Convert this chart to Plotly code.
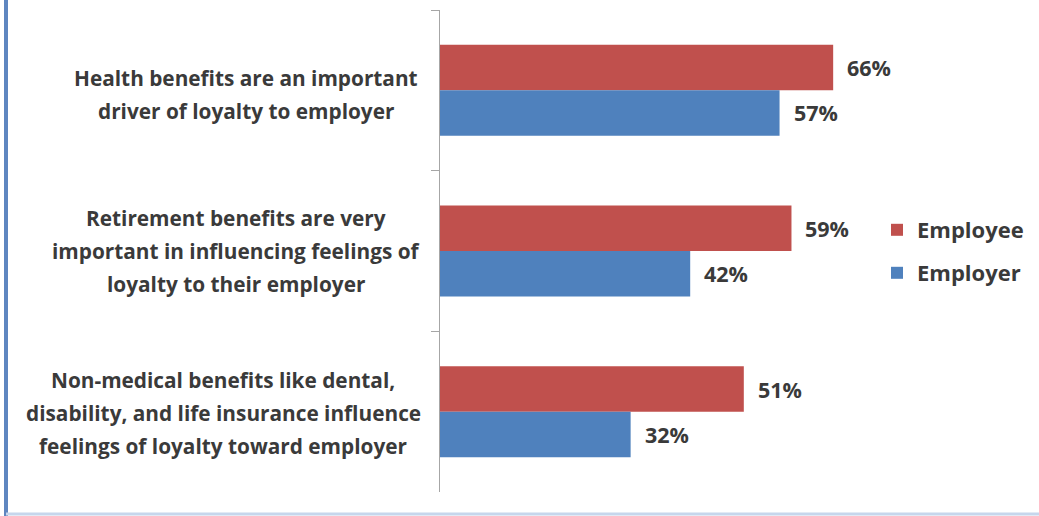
import plotly.graph_objects as go

category_lines = [
    ["Health benefits are an important", "driver of loyalty to employer"],
    ["Retirement benefits are very", "important in influencing feelings of", "loyalty to their employer"],
    ["Non-medical benefits like dental,", "disability, and life insurance influence", "feelings of loyalty toward employer"],
]
cat_keys = ["health", "retirement", "nonmedical"]
employee = [66, 59, 51]
employer = [57, 42, 32]
series_names = ["Employee", "Employer"]
colors = ["#C0504D", "#4F81BD"]

W, H = 1039, 516
ML, MR, MT, MB = 440, 182, 10, 24
PW, PH = W - ML - MR, H - MT - MB
FONT = "Open Sans"
TXT = "#3A3A3A"
FS_CAT, FS_VAL, FS_LEG = 20.8, 21.5, 22
LINE = 33
label_centers = [246, 236, 223]
label_voffsets = [-4, 0, -1]

fig = go.Figure()
fig.add_trace(go.Bar(y=cat_keys, x=employee, orientation="h", name=series_names[0],
                     marker=dict(color=colors[0], line=dict(width=0)), legend="legend"))
fig.add_trace(go.Bar(y=cat_keys, x=employer, orientation="h", name=series_names[1],
                     marker=dict(color=colors[1], line=dict(width=0)), legend="legend2"))

annotations = []
# category labels, one annotation per line for Excel-like spacing
for k, lines, cx, vo in zip(cat_keys, category_lines, label_centers, label_voffsets):
    n = len(lines)
    for i, ln in enumerate(lines):
        annotations.append(dict(x=(cx - ML) / PW, y=k, xref="paper", yref="y", text=ln,
                                showarrow=False, xanchor="center", yanchor="middle",
                                yshift=((n - 1) / 2 - i) * LINE + vo,
                                font=dict(family=FONT, size=FS_CAT, color=TXT, weight="bold")))
# data labels
for vals, ys in ((employee, 22.5), (employer, -22.5)):
    for k, v in zip(cat_keys, vals):
        annotations.append(dict(x=v, y=k, xref="x", yref="y", text=f"{v}%", showarrow=False,
                                xanchor="left", xshift=12, yshift=ys,
                                font=dict(family=FONT, size=FS_VAL, color=TXT, weight="bold")))

leg_x = (877 - ML) / PW
fig.update_layout(
    width=W, height=H,
    margin=dict(l=ML, r=MR, t=MT, b=MB),
    paper_bgcolor="white", plot_bgcolor="white",
    barmode="group", bargap=0.434, bargroupgap=0,
    xaxis=dict(range=[0, 70], visible=False, fixedrange=True),
    yaxis=dict(autorange="reversed", showticklabels=False, showline=True,
               linecolor="#A6A6A6", linewidth=1, ticks="outside", ticklen=8,
               tickcolor="#A6A6A6", tickson="boundaries", showgrid=False, zeroline=False),
    legend=dict(x=leg_x, y=1 - (230 - MT) / PH, xanchor="left", yanchor="middle",
                bgcolor="rgba(0,0,0,0)",
                font=dict(family=FONT, size=FS_LEG, color=TXT, weight="bold")),
    legend2=dict(x=leg_x, y=1 - (273 - MT) / PH, xanchor="left", yanchor="middle",
                 bgcolor="rgba(0,0,0,0)",
                 font=dict(family=FONT, size=FS_LEG, color=TXT, weight="bold")),
    annotations=annotations,
    shapes=[
        dict(type="line", xref="paper", yref="paper",
             x0=(6 - ML) / PW, x1=(6 - ML) / PW,
             y0=-MB / PH, y1=1 + MT / PH,
             line=dict(color="#5F86C0", width=4)),
        dict(type="line", xref="paper", yref="paper",
             x0=(6 - ML) / PW, x1=(W - ML) / PW,
             y0=-(MB - 2) / PH, y1=-(MB - 2) / PH,
             line=dict(color="#C6D6EC", width=3)),
    ],
    showlegend=True,
)

fig.write_html("out.html")
